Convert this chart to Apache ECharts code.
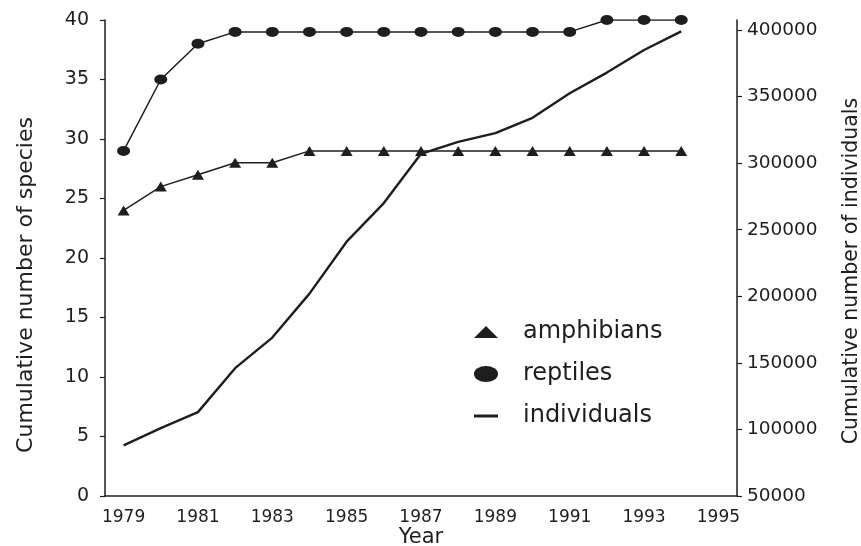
<!DOCTYPE html>
<html>
<head>
<meta charset="utf-8">
<script src="https://cdn.jsdelivr.net/npm/echarts@6/dist/echarts.min.js"></script>
<style>
  html, body { margin: 0; padding: 0; background: #ffffff; }
  #chart { width: 861px; height: 546px; }
</style>
</head>
<body>
<div id="chart"></div>
<script>
// Survey years (category axis, one slot per year)
const years = ['1979','1980','1981','1982','1983','1984','1985','1986','1987',
               '1988','1989','1990','1991','1992','1993','1994','1995'];

// Cumulative number of species
const amphibians = [24, 26, 27, 28, 28, 29, 29, 29, 29, 29, 29, 29, 29, 29, 29, 29];
const reptiles   = [29, 35, 38, 39, 39, 39, 39, 39, 39, 39, 39, 39, 39, 40, 40, 40];

// Cumulative number of individuals
const individuals = [88000, 101000, 113000, 146000, 169000, 202000, 241000, 270000,
                     307000, 316000, 322500, 334000, 352500, 368000, 385000, 399000];

// Right axis tick values
const individualTicks = [50000, 100000, 150000, 200000, 250000, 300000, 350000, 400000];

const ink = '#1e1e1e';
const font = 'DejaVu Sans';

const ellipse = 'path://M0,5 A6.5,5 0 1,1 13,5 A6.5,5 0 1,1 0,5 Z';
const legendTriangle = 'path://M0,12 L12,0 L24,12 Z';
const legendEllipse = 'path://M0,8 A12,8 0 1,1 24,8 A12,8 0 1,1 0,8 Z';
const legendDash = 'path://M0,0 L24,0 L24,3 L0,3 Z';

const chart = echarts.init(document.getElementById('chart'), null, { renderer: 'canvas' });

chart.setOption({
  animation: false,
  backgroundColor: '#ffffff',
  grid: { left: 105, right: 124, top: 20, bottom: 50, containLabel: false, outerBoundsMode: 'none' },
  legend: {
    orient: 'vertical',
    left: 469,
    top: 315,
    itemWidth: 24,
    itemHeight: 16,
    itemGap: 18,
    symbolKeepAspect: true,
    selectedMode: false,
    textStyle: { fontFamily: font, fontSize: 24, color: ink, padding: [0, 0, 0, 20] },
    data: [
      { name: 'amphibians', icon: legendTriangle, itemStyle: { color: ink } },
      { name: 'reptiles', icon: legendEllipse, itemStyle: { color: ink } },
      { name: 'individuals', icon: legendDash, itemStyle: { color: ink } }
    ]
  },
  xAxis: {
    type: 'category',
    data: years,
    boundaryGap: true,
    name: 'Year',
    nameLocation: 'middle',
    nameGap: 31,
    nameMoveOverlap: false,
    nameTextStyle: { fontFamily: font, fontSize: 21, color: ink },
    axisLine: { lineStyle: { color: ink, width: 1.5 } },
    axisTick: { alignWithLabel: true, interval: 0, length: 5, lineStyle: { color: ink, width: 1.2 } },
    axisLabel: { interval: 1, fontFamily: font, fontSize: 17, color: ink, margin: 13 },
    splitLine: { show: false }
  },
  yAxis: [
    {
      type: 'value',
      min: 0,
      max: 40,
      interval: 5,
      name: 'Cumulative number of species',
      nameLocation: 'middle',
      nameGap: 68,
      nameTextStyle: { fontFamily: font, fontSize: 22, color: ink, padding: [0, 54, 0, 0] },
      axisLine: { show: true, lineStyle: { color: ink, width: 1.5 } },
      axisTick: { show: true, length: 5, lineStyle: { color: ink, width: 1.2 } },
      axisLabel: { fontFamily: font, fontSize: 19, color: ink, margin: 16 },
      splitLine: { show: false }
    },
    {
      type: 'value',
      position: 'right',
      min: 50000,
      max: 407500,
      name: 'Cumulative number of individuals',
      nameLocation: 'middle',
      nameGap: 104,
      nameTextStyle: { fontFamily: font, fontSize: 20.5, color: ink, padding: [0, 26, 0, 0] },
      axisLine: { show: true, lineStyle: { color: ink, width: 1.5 } },
      axisTick: { show: true, length: 5, customValues: individualTicks, lineStyle: { color: ink, width: 1.2 } },
      axisLabel: {
        fontFamily: font, fontSize: 18.5, color: ink, margin: 10,
        customValues: individualTicks,
        formatter: v => String(v)
      },
      splitLine: { show: false }
    }
  ],
  series: [
    {
      name: 'amphibians',
      type: 'line',
      yAxisIndex: 0,
      data: amphibians,
      symbol: 'triangle',
      symbolSize: [12, 10],
      lineStyle: { color: ink, width: 1.5 },
      itemStyle: { color: ink },
      z: 3
    },
    {
      name: 'reptiles',
      type: 'line',
      yAxisIndex: 0,
      data: reptiles,
      symbol: ellipse,
      symbolSize: [13, 10],
      lineStyle: { color: ink, width: 1.5 },
      itemStyle: { color: ink },
      z: 3
    },
    {
      name: 'individuals',
      type: 'line',
      yAxisIndex: 1,
      data: individuals,
      showSymbol: false,
      symbol: 'none',
      lineStyle: { color: ink, width: 2.4 },
      itemStyle: { color: ink },
      z: 2
    }
  ]
});
</script>
</body>
</html>
